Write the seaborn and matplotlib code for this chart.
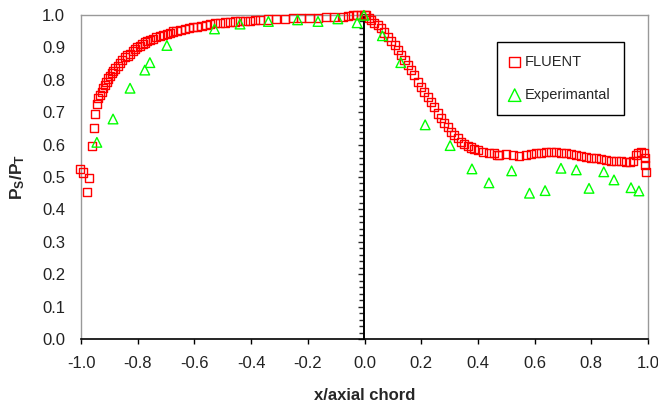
import matplotlib
matplotlib.use("Agg")
import matplotlib.pyplot as plt
import matplotlib.ticker as mticker
import seaborn as sns

# CFD (FLUENT) static/total pressure ratio along the blade
fluent_x = [-1.003, -0.992, -0.971, -0.980, -0.960, -0.955, -0.951, -0.945, -0.939, -0.933,
            -0.927, -0.921, -0.915, -0.910, -0.904, -0.898, -0.892, -0.886, -0.880, -0.871,
            -0.863, -0.854, -0.845, -0.836, -0.827, -0.818, -0.810, -0.801, -0.792, -0.783,
            -0.775, -0.766, -0.757, -0.745, -0.734, -0.722, -0.710, -0.698, -0.687, -0.675,
            -0.663, -0.649, -0.634, -0.620, -0.605, -0.590, -0.575, -0.560, -0.546, -0.528,
            -0.511, -0.493, -0.475, -0.458, -0.440, -0.422, -0.405, -0.387, -0.370, -0.340,
            -0.311, -0.282, -0.252, -0.223, -0.194, -0.165, -0.135, -0.106, -0.076, -0.059,
            -0.042, -0.027, -0.012, 0.000,
            0.006, 0.015, 0.024, 0.035, 0.047, 0.059, 0.070, 0.082, 0.094, 0.106,
            0.117, 0.129, 0.141, 0.152, 0.164, 0.176, 0.188, 0.200, 0.211, 0.223,
            0.235, 0.246, 0.258, 0.270, 0.282, 0.293, 0.305, 0.317, 0.329, 0.340,
            0.352, 0.364, 0.375, 0.387, 0.399, 0.417, 0.440, 0.458, 0.469, 0.475,
            0.499, 0.523, 0.546, 0.569, 0.587, 0.604, 0.622, 0.640, 0.657, 0.675,
            0.693, 0.711, 0.728, 0.746, 0.764, 0.781, 0.799, 0.816, 0.834, 0.852,
            0.870, 0.887, 0.905, 0.922, 0.935, 0.946, 0.957, 0.966, 0.975, 0.986,
            0.989, 0.991, 0.993]
fluent_y = [0.524, 0.514, 0.498, 0.455, 0.596, 0.652, 0.694, 0.726, 0.745, 0.754,
            0.763, 0.774, 0.784, 0.794, 0.804, 0.812, 0.820, 0.828, 0.835, 0.843,
            0.851, 0.860, 0.869, 0.875, 0.881, 0.888, 0.894, 0.900, 0.905, 0.910,
            0.915, 0.919, 0.923, 0.927, 0.931, 0.935, 0.938, 0.942, 0.945, 0.949,
            0.952, 0.955, 0.957, 0.960, 0.962, 0.964, 0.966, 0.969, 0.971, 0.974,
            0.976, 0.977, 0.978, 0.980, 0.981, 0.981, 0.982, 0.984, 0.985, 0.986,
            0.988, 0.989, 0.990, 0.991, 0.992, 0.992, 0.993, 0.994, 0.995, 0.997,
            0.999, 1.000, 1.000, 1.000,
            1.000, 0.992, 0.985, 0.976, 0.969, 0.959, 0.946, 0.933, 0.921, 0.907,
            0.892, 0.877, 0.861, 0.846, 0.830, 0.815, 0.794, 0.779, 0.763, 0.748,
            0.732, 0.717, 0.696, 0.681, 0.666, 0.653, 0.640, 0.630, 0.619, 0.609,
            0.602, 0.597, 0.591, 0.586, 0.583, 0.578, 0.573, 0.573, 0.568, 0.568,
            0.570, 0.568, 0.566, 0.567, 0.570, 0.573, 0.575, 0.576, 0.576, 0.576,
            0.575, 0.573, 0.570, 0.568, 0.565, 0.563, 0.560, 0.558, 0.555, 0.552,
            0.550, 0.549, 0.548, 0.547, 0.547, 0.549, 0.568, 0.574, 0.576, 0.573,
            0.558, 0.537, 0.516]

# measured values
exp_x = [-0.944, -0.887, -0.827, -0.775, -0.757, -0.697, -0.529, -0.439, -0.339, -0.236,
         -0.164, -0.094, -0.026, -0.002, 0.063, 0.128, 0.214, 0.302, 0.379, 0.439,
         0.519, 0.582, 0.637, 0.693, 0.747, 0.792, 0.844, 0.880, 0.940, 0.968]
exp_y = [0.607, 0.679, 0.774, 0.830, 0.853, 0.906, 0.957, 0.972, 0.980, 0.985,
         0.980, 0.988, 0.976, 0.999, 0.936, 0.853, 0.661, 0.597, 0.525, 0.482,
         0.519, 0.450, 0.458, 0.527, 0.522, 0.465, 0.516, 0.491, 0.467, 0.457]

sns.set_style("white")
plt.rcParams['font.family'] = ['Liberation Sans', 'DejaVu Sans']
plt.rcParams['mathtext.fontset'] = 'custom'
plt.rcParams['mathtext.rm'] = 'Liberation Sans'
plt.rcParams['mathtext.bf'] = 'Liberation Sans:bold'
plt.rcParams['axes.unicode_minus'] = False

fig = plt.figure(figsize=(6.58, 4.09), dpi=100)
ax = fig.add_axes([81 / 658, 1 - 339 / 409, 567 / 658, 324 / 409])

sns.scatterplot(x=fluent_x, y=fluent_y, ax=ax, marker='s', s=34, facecolors='none',
                edgecolor='#ff0000', linewidth=1.0, label='FLUENT', clip_on=False, zorder=3)
sns.scatterplot(x=exp_x, y=exp_y, ax=ax, marker='^', s=48, facecolors='none',
                edgecolor='#00ff00', linewidth=1.0, label='Experimantal', clip_on=False, zorder=4)

ax.set_xlim(-1, 1)
ax.set_ylim(0, 1)
ax.xaxis.set_major_locator(mticker.MultipleLocator(0.2))
ax.yaxis.set_major_locator(mticker.MultipleLocator(0.1))
ax.xaxis.set_major_formatter(mticker.FormatStrFormatter('%.1f'))
ax.yaxis.set_major_formatter(mticker.FormatStrFormatter('%.1f'))
ax.tick_params(axis='x', bottom=True, direction='out', length=3.6, width=1.0,
               color='black', pad=9, labelsize=12, labelcolor='#222222')
ax.tick_params(axis='y', left=True, length=0, pad=11.5, labelsize=12, labelcolor='#222222')

for side in ['left', 'top', 'right']:
    ax.spines[side].set_color('#999999')
    ax.spines[side].set_linewidth(1.0)
ax.spines['bottom'].set_color('black')
ax.spines['bottom'].set_linewidth(1.2)

# value axis crossing at x = 0
sec = ax.secondary_yaxis(0.5)
sec.set_alignment('left')
sec.spines['left'].set_color('black')
sec.spines['left'].set_linewidth(1.4)
sec.yaxis.set_major_locator(mticker.MultipleLocator(0.1))
sec.yaxis.set_minor_locator(mticker.MultipleLocator(0.02))
sec.tick_params(axis='y', which='major', length=4, width=1.0, labelleft=False, labelright=False)
sec.tick_params(axis='y', which='minor', length=3.5, width=1.0)

ax.set_xlabel('x/axial chord', fontsize=12, fontweight='bold')
ax.set_ylabel(r'$\mathbf{P_S/P_T}$', fontsize=12.5)
ax.xaxis.set_label_coords(0.5, -0.15)
ax.yaxis.set_label_coords(-0.095, 0.5)

leg = ax.legend(loc='upper left', bbox_to_anchor=(0.734, 0.917), fontsize=10.5,
                frameon=True, fancybox=False, edgecolor='black', framealpha=1,
                handlelength=0.6, handletextpad=0.4, labelspacing=1.3,
                borderpad=0.9, borderaxespad=0, markerscale=1.3)
leg.get_frame().set_linewidth(1.0)

fig.savefig('out.png', dpi=100)
